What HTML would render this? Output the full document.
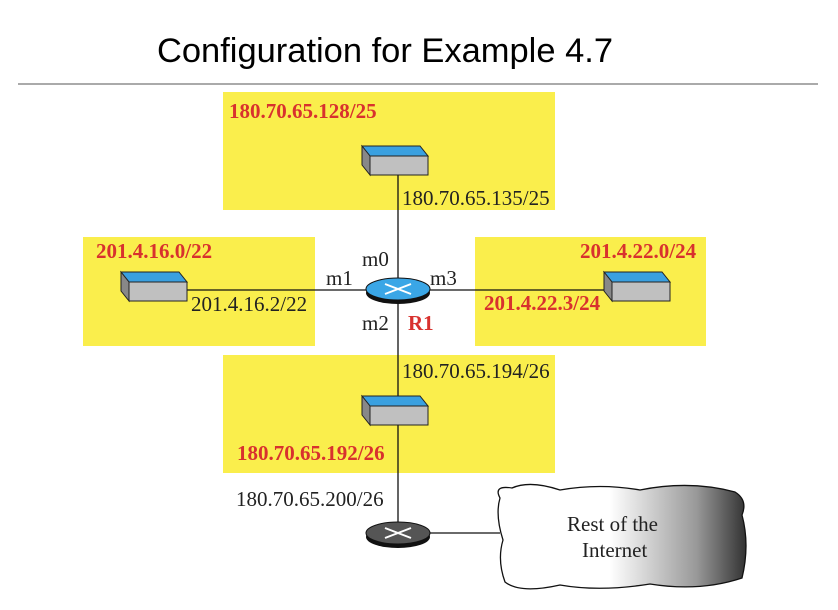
<!DOCTYPE html>
<html><head><style>body{margin:0;background:#fff}svg{display:block}</style></head><body>
<svg width="838" height="610" viewBox="0 0 838 610" xmlns="http://www.w3.org/2000/svg">
<defs>
<linearGradient id="cg" x1="0" x2="1" y1="0" y2="0">
<stop offset="0" stop-color="#fff"/><stop offset="0.45" stop-color="#fff"/><stop offset="0.8" stop-color="#999"/><stop offset="1" stop-color="#333"/>
</linearGradient>
<g id="sw">
<polygon points="0,0 58,0 66,10 8,10" fill="#3aa0e0" stroke="#222" stroke-width="1"/>
<polygon points="0,0 8,10 8,29 0,19" fill="#888" stroke="#222" stroke-width="1"/>
<rect x="8" y="10" width="58" height="19" fill="#c0c0c0" stroke="#222" stroke-width="1"/>
</g>
</defs>
<text x="157" y="62" font-family="Liberation Sans, sans-serif" font-size="34" fill="#000" textLength="456" lengthAdjust="spacingAndGlyphs">Configuration for Example 4.7</text>
<line x1="18" y1="84" x2="818" y2="84" stroke="#555" stroke-width="1"/>
<g fill="#faee4c">
<rect x="223" y="92" width="332" height="118"/>
<rect x="83" y="237" width="232" height="109"/>
<rect x="475" y="237" width="231" height="109"/>
<rect x="223" y="355" width="332" height="118"/>
</g>
<g stroke="#111" stroke-width="1.3">
<line x1="398" y1="175" x2="398" y2="533"/>
<line x1="187" y1="290" x2="610" y2="290"/>
<line x1="420" y1="533" x2="500" y2="533"/>
</g>
<use href="#sw" x="362" y="146"/>
<use href="#sw" x="121" y="272"/>
<use href="#sw" x="604" y="272"/>
<use href="#sw" x="362" y="396"/>
<ellipse cx="398" cy="293" rx="32" ry="11" fill="#111"/>
<ellipse cx="398" cy="289" rx="32" ry="11" fill="#3aa6e6" stroke="#111"/>
<path d="M385 284 L411 294 M385 294 L411 284" stroke="#fff" stroke-width="2"/>
<ellipse cx="398" cy="537" rx="32" ry="11" fill="#111"/>
<ellipse cx="398" cy="533" rx="32" ry="11" fill="#555" stroke="#111"/>
<path d="M385 528 L411 538 M385 538 L411 528" stroke="#fff" stroke-width="2"/>
<path d="M500 498 Q493 485 512 488 Q530 480 560 490 Q600 483 640 490 Q690 480 735 492 Q748 500 742 515 Q750 545 742 578 Q700 592 650 584 Q600 592 560 585 Q520 594 505 582 Q497 560 503 540 Q495 515 500 498 Z" fill="url(#cg)" stroke="#111" stroke-width="1.3"/>
<g font-family="Liberation Serif, serif" font-size="21" fill="#222">
<text x="402" y="205">180.70.65.135/25</text>
<text x="362" y="266">m0</text>
<text x="326" y="285">m1</text>
<text x="430" y="285">m3</text>
<text x="362" y="330">m2</text>
<text x="191" y="311">201.4.16.2/22</text>
<text x="402" y="378">180.70.65.194/26</text>
<text x="236" y="506">180.70.65.200/26</text>
<text x="567" y="531">Rest of the</text>
<text x="582" y="557">Internet</text>
</g>
<g font-family="Liberation Serif, serif" font-size="21" font-weight="bold" fill="#d8312e">
<text x="229" y="118">180.70.65.128/25</text>
<text x="96" y="258">201.4.16.0/22</text>
<text x="580" y="258">201.4.22.0/24</text>
<text x="484" y="310">201.4.22.3/24</text>
<text x="408" y="330">R1</text>
<text x="237" y="460">180.70.65.192/26</text>
</g>
</svg>
</body></html>
